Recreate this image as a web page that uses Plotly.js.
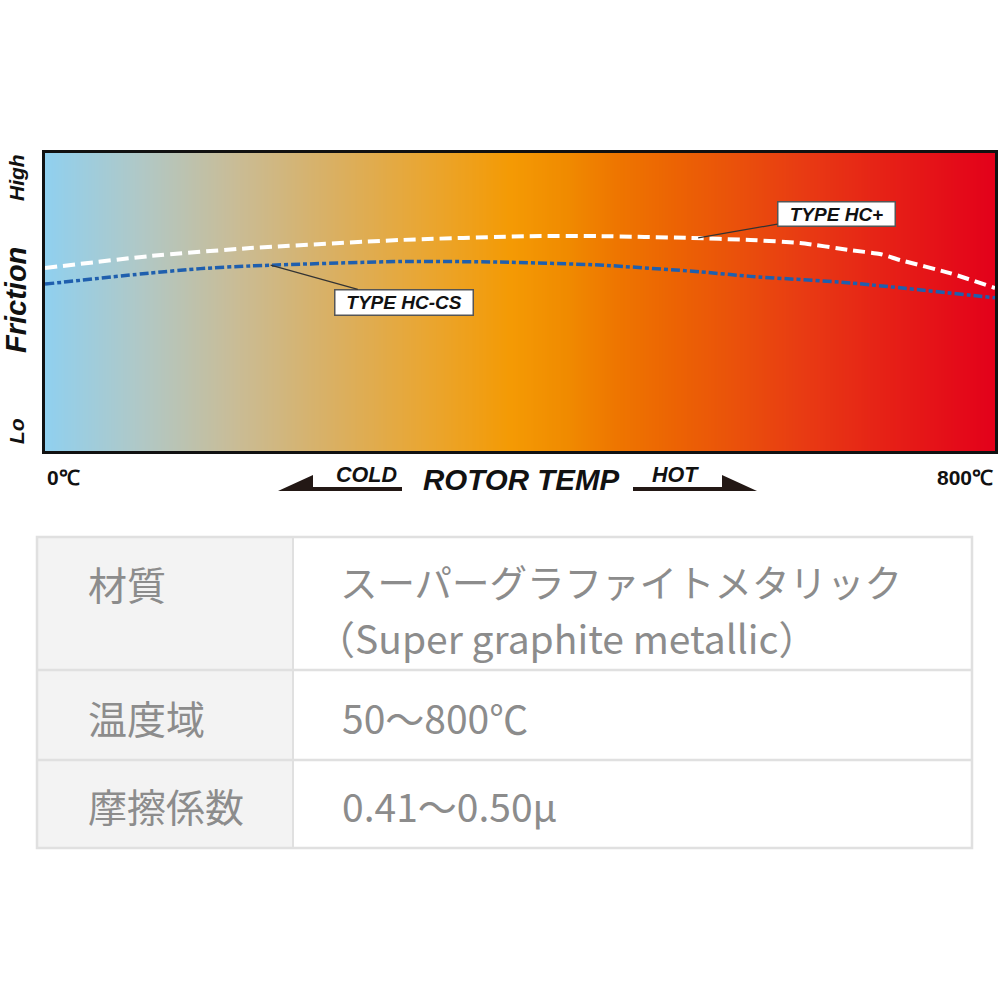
<!DOCTYPE html>
<html>
<head>
<meta charset="utf-8">
<script src="https://cdn.plot.ly/plotly-3.0.1.min.js"></script>
<style>html,body{margin:0;padding:0;background:#fff;}#chart{width:1000px;height:1000px;}</style>
</head>
<body>
<div id="chart"></div>
<script>
// ---- data ----
const tempHCplus = [0, 88, 173, 299, 408, 467, 543, 594, 636, 678, 703, 720, 762, 800];
const fricHCplus = [6.14, 6.54, 6.81, 7.08, 7.21, 7.21, 7.15, 7.08, 6.98, 6.74, 6.61, 6.41, 5.97, 5.47];
const tempHCCS = [0, 88, 131, 173, 299, 383, 467, 552, 594, 678, 800];
const fricHCCS = [5.60, 5.97, 6.12, 6.21, 6.36, 6.34, 6.24, 6.01, 5.86, 5.64, 5.14];
const seriesNames = ["TYPE HC+", "TYPE HC-CS"];
const tempRange = [0, 800];
const fricRange = [0, 10];
const tempLabels = ["0℃", "800℃"];
const frictionLabels = ["High", "Friction", "Lo"];
const gradStops = [0, 0.1, 0.2, 0.3, 0.4, 0.49, 0.55, 0.6, 0.66, 0.72, 0.8, 0.88, 1];
const gradColors = ["#90d0ef", "#b0c8c6", "#c9bc96", "#d9b064", "#e9a632", "#f49a04", "#f08a00", "#ee7600", "#ec6403", "#ea530a", "#e83a13", "#e62216", "#e3001a"];
const tableKeys = ["材質", "温度域", "摩擦係数"];
const tableValues = [["スーパーグラファイトメタリック", "（Super graphite metallic）"], ["50～800℃"], ["0.41～0.50μ"]];

// ---- layout helpers (pixel -> paper) ----
const ML = 45, MR = 5, MT = 153, MB = 549;
const PW = 1000 - ML - MR, PH = 1000 - MT - MB;
const px = v => (v - ML) / PW;
const py = v => (MT + PH - v) / PH;

// gradient background as heatmap
const gx = [];
for (let t = tempRange[0]; t <= tempRange[1]; t += 10) gx.push(t);
const gz = [gx.slice(), gx.slice()];
const colorscale = gradStops.map((s, i) => [s, gradColors[i]]);

const traces = [
  {type: "heatmap", x: gx, y: fricRange, z: gz, colorscale: colorscale, zmin: tempRange[0], zmax: tempRange[1],
   zsmooth: "best", showscale: false, hoverinfo: "skip"},
  {type: "scatter", mode: "lines", name: seriesNames[0], x: tempHCplus, y: fricHCplus,
   line: {color: "#ffffff", width: 4, dash: "12px,6px", shape: "spline", smoothing: 0.6}},
  {type: "scatter", mode: "lines", name: seriesNames[1], x: tempHCCS, y: fricHCCS,
   line: {color: "#1f5fae", width: 3.5, dash: "9px,3px,4px,3px", shape: "spline", smoothing: 0.6}}
];

const bi = {family: "Liberation Sans, Arial, sans-serif", color: "#111", weight: "bold", style: "italic"};
const ann = [];
function lab(x, y, text, font, extra) {
  ann.push(Object.assign({xref: "paper", yref: "paper", x: px(x), y: py(y), xanchor: "center", yanchor: "middle",
    text: text, showarrow: false, font: font}, extra || {}));
}
// y-axis word labels
lab(16, 178, frictionLabels[0], Object.assign({}, bi, {size: 21}), {textangle: -90});
lab(16, 300, frictionLabels[1], Object.assign({}, bi, {size: 29}), {textangle: -90});
lab(16, 431, frictionLabels[2], Object.assign({}, bi, {size: 21}), {textangle: -90});
// x labels
const plain = {family: "Liberation Sans, Arial, sans-serif", size: 21, color: "#111", weight: "bold"};
lab(45, 477, tempLabels[0], plain, {xanchor: "left"});
lab(995, 477, tempLabels[1], plain, {xanchor: "right"});
lab(521, 479, "ROTOR TEMP", Object.assign({}, bi, {size: 29.5}));
lab(366, 475, "COLD", Object.assign({}, bi, {size: 21.5}));
lab(675, 475, "HOT", Object.assign({}, bi, {size: 21.5}));
// series labels
ann.push({x: 550, y: 7.15, xref: "x", yref: "y", text: seriesNames[0], showarrow: true, arrowhead: 0, arrowwidth: 1.2, arrowcolor: "#333",
  ax: 138, ay: -24, bgcolor: "#fff", bordercolor: "#555", borderwidth: 1.5, width: 114, height: 21, borderpad: 1,
  font: Object.assign({}, bi, {size: 19})});
ann.push({x: 190, y: 6.24, xref: "x", yref: "y", text: seriesNames[1], showarrow: true, arrowhead: 0, arrowwidth: 1.2, arrowcolor: "#333",
  ax: 133, ay: 37, bgcolor: "#fff", bordercolor: "#555", borderwidth: 1.5, width: 135, height: 22, borderpad: 1,
  font: Object.assign({}, bi, {size: 19})});

// table
const tfont = {family: "Noto Sans CJK JP, sans-serif", size: 39, color: "#8c8c8c"};
const rowCenters = [583, 717, 805];
function cell(x, y, text, font) {
  ann.push({xref: "paper", yref: "paper", x: px(x), y: py(y), xanchor: "left", yanchor: "middle", align: "left",
    text: text, showarrow: false, font: font});
}
tableKeys.forEach((k, i) => cell(86, rowCenters[i], k, tfont));
cell(338, 580, tableValues[0][0], Object.assign({}, tfont, {size: 37.5}));
cell(314, 637, tableValues[0][1], tfont);
cell(340, 717, tableValues[1][0], tfont);
cell(340, 805, tableValues[2][0], tfont);

const shapes = [];
const P = (x, y) => px(x) + "," + py(y);
// cold arrow
shapes.push({type: "path", xref: "paper", yref: "paper", path: "M" + P(278, 491) + "L" + P(313, 475) + "L" + P(313, 487) + "L" + P(402, 487) + "L" + P(402, 491) + "Z",
  fillcolor: "#231815", line: {width: 0}});
// hot arrow
shapes.push({type: "path", xref: "paper", yref: "paper", path: "M" + P(633, 487) + "L" + P(722, 487) + "L" + P(722, 475) + "L" + P(757, 491) + "L" + P(633, 491) + "Z",
  fillcolor: "#231815", line: {width: 0}});
// table
shapes.push({type: "rect", xref: "paper", yref: "paper", x0: px(37), x1: px(293), y0: py(537), y1: py(848), fillcolor: "#f3f3f3", line: {width: 0}, layer: "below"});
shapes.push({type: "rect", xref: "paper", yref: "paper", x0: px(37), x1: px(972), y0: py(537), y1: py(848), line: {color: "#e0e0e0", width: 2.5}});
shapes.push({type: "line", xref: "paper", yref: "paper", x0: px(293), x1: px(293), y0: py(537), y1: py(848), line: {color: "#e0e0e0", width: 2}});
shapes.push({type: "line", xref: "paper", yref: "paper", x0: px(37), x1: px(972), y0: py(670), y1: py(670), line: {color: "#e0e0e0", width: 2.5}});
shapes.push({type: "line", xref: "paper", yref: "paper", x0: px(37), x1: px(972), y0: py(760), y1: py(760), line: {color: "#e0e0e0", width: 2.5}});

const layout = {
  width: 1000, height: 1000,
  margin: {l: ML, r: MR, t: MT, b: MB, pad: 0},
  paper_bgcolor: "#ffffff", plot_bgcolor: "#ffffff",
  showlegend: false,
  xaxis: {range: tempRange, showgrid: false, zeroline: false, showticklabels: false, ticks: "",
    showline: true, mirror: true, linecolor: "#111", linewidth: 3, fixedrange: true},
  yaxis: {range: fricRange, showgrid: false, zeroline: false, showticklabels: false, ticks: "",
    showline: true, mirror: true, linecolor: "#111", linewidth: 3, fixedrange: true},
  annotations: ann,
  shapes: shapes
};
Plotly.newPlot("chart", traces, layout, {displayModeBar: false, staticPlot: true});
</script>
</body>
</html>
